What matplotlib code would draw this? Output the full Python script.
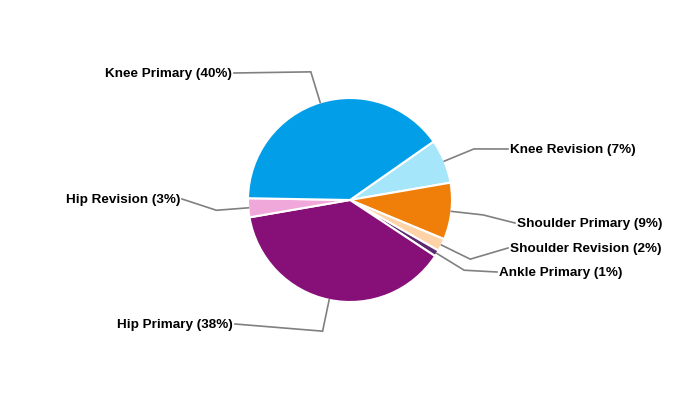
import numpy as np
import matplotlib
matplotlib.use("Agg")
import matplotlib.pyplot as plt

labels = ["Knee Revision", "Shoulder Primary", "Shoulder Revision", "Ankle Primary",
          "Hip Primary", "Hip Revision", "Knee Primary"]
values = [7, 9, 2, 1, 38, 3, 40]
colors = ["#A6E6FB", "#F07F09", "#FFD3A8", "#5A2A72", "#861078", "#F0A8DA", "#039EE8"]

# label anchor points (pixel coords) and alignment
anchors = [(508, 149, "left"), (515, 223, "left"), (508, 248, "left"), (497, 272, "left"),
           (235, 324, "right"), (182, 199, "right"), (234, 73, "right")]

W, H = 700, 400
fig = plt.figure(figsize=(7, 4), dpi=100)
ax = fig.add_axes([0, 0, 1, 1])
ax.set_xlim(0, W)
ax.set_ylim(0, H)
ax.set_aspect("equal")
ax.axis("off")

cx, cy, R = 350, 200, 102
start = 35
wedges, _ = ax.pie(values, colors=colors, startangle=start, counterclock=False,
                   center=(cx, H - cy), radius=R,
                   wedgeprops=dict(edgecolor="white", linewidth=1.5))
ax.set_xlim(0, W)
ax.set_ylim(0, H)

total = sum(values)
ang = start
for lab, v, (lx, ly, ha) in zip(labels, values, anchors):
    a0 = ang
    ang -= v / total * 360
    mid = np.radians((a0 + ang) / 2)
    p1 = (cx + R * np.cos(mid), H - cy + R * np.sin(mid))
    p2 = (cx + 134 * np.cos(mid), H - cy + 134 * np.sin(mid))
    p3 = (lx, H - ly)
    ax.plot([p1[0], p2[0], p3[0]], [p1[1], p2[1], p3[1]], color="#808080", lw=1.2,
            solid_joinstyle="miter")
    tx = lx + 2 if ha == "left" else lx - 2
    ax.text(tx, H - ly - 1, f"{lab} ({v}%)", ha=ha, va="center", fontsize=9.7,
            fontweight="bold", family="Liberation Sans", color="#000000")

fig.savefig("out.png", dpi=100)
